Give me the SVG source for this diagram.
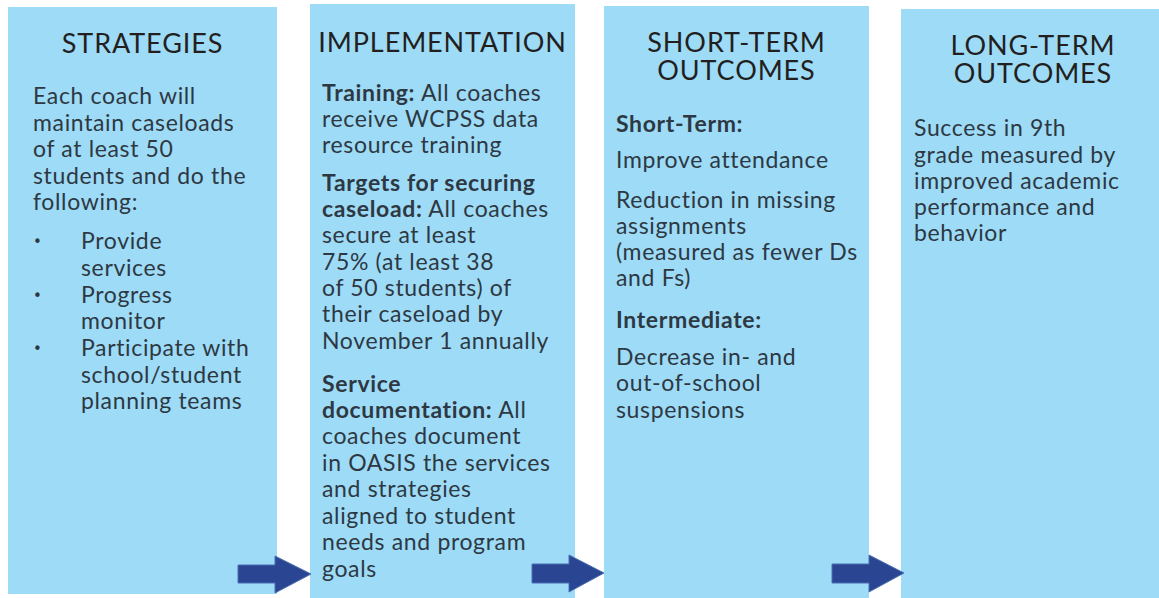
<svg xmlns="http://www.w3.org/2000/svg" width="1159" height="598" viewBox="0 0 1159 598">
  <style>
    .box { fill: #9DDBF7; }
    .head { font-family: Lato, "Noto Sans", sans-serif; font-size: 27px; letter-spacing: 0.9px; fill: #231F20; text-anchor: middle; }
    .body { font-family: Lato, "Noto Sans", sans-serif; font-size: 23px; letter-spacing: 0.65px; fill: #2E3842; }
    .b { font-weight: 700; }
    .dot { font-family: "DejaVu Sans", sans-serif; font-size: 15px; fill: #2E3842; }
    .arrow { fill: #2A4591; stroke: #4C6FB3; stroke-width: 1; }
  </style>
  <rect width="1159" height="598" fill="#FFFFFF"/>

  <g id="strategies">
    <rect class="box" x="8" y="7" width="269" height="587"/>
    <text class="head" x="142.5" y="53">STRATEGIES</text>
    <text class="body">
      <tspan x="33" y="104">Each coach will</tspan>
      <tspan x="33" y="131">maintain caseloads</tspan>
      <tspan x="33" y="157">of at least 50</tspan>
      <tspan x="33" y="184">students and do the</tspan>
      <tspan x="33" y="210">following:</tspan>
    </text>
    <!-- bullet list -->
    <text class="dot">
      <tspan x="33" y="247">•</tspan>
      <tspan x="33" y="301">•</tspan>
      <tspan x="33" y="354">•</tspan>
    </text>
    <text class="body">
      <tspan x="81" y="249">Provide</tspan>
      <tspan x="81" y="276">services</tspan>
      <tspan x="81" y="303">Progress</tspan>
      <tspan x="81" y="329">monitor</tspan>
      <tspan x="81" y="356">Participate with</tspan>
      <tspan x="81" y="383">school/student</tspan>
      <tspan x="81" y="409">planning teams</tspan>
    </text>
  </g>

  <g id="implementation">
    <rect class="box" x="310" y="4" width="265" height="594"/>
    <text class="head" x="442.5" y="52">IMPLEMENTATION</text>
    <text class="body">
      <tspan x="322" y="101" class="b">Training:</tspan><tspan> All coaches</tspan>
      <tspan x="322" y="127">receive WCPSS data</tspan>
      <tspan x="322" y="153">resource training</tspan>
      <tspan x="322" y="191" class="b">Targets for securing</tspan>
      <tspan x="322" y="217" class="b">caseload:</tspan><tspan> All coaches</tspan>
      <tspan x="322" y="243">secure at least</tspan>
      <tspan x="322" y="270">75% (at least 38</tspan>
      <tspan x="322" y="296">of 50 students) of</tspan>
      <tspan x="322" y="322">their caseload by</tspan>
      <tspan x="322" y="349">November 1 annually</tspan>
      <tspan x="322" y="392" class="b">Service</tspan>
      <tspan x="322" y="418" class="b">documentation:</tspan><tspan> All</tspan>
      <tspan x="322" y="444">coaches document</tspan>
      <tspan x="322" y="471">in OASIS the services</tspan>
      <tspan x="322" y="497">and strategies</tspan>
      <tspan x="322" y="524">aligned to student</tspan>
      <tspan x="322" y="550">needs and program</tspan>
      <tspan x="322" y="577">goals</tspan>
    </text>
  </g>

  <g id="short-term-outcomes">
    <rect class="box" x="604" y="6" width="265" height="592"/>
    <text class="head" x="736.5" y="52">SHORT-TERM</text>
    <text class="head" x="736.5" y="80">OUTCOMES</text>
    <text class="body">
      <tspan x="616" y="132" class="b">Short-Term:</tspan>
      <tspan x="616" y="168">Improve attendance</tspan>
      <tspan x="616" y="208">Reduction in missing</tspan>
      <tspan x="616" y="234">assignments</tspan>
      <tspan x="616" y="260">(measured as fewer Ds</tspan>
      <tspan x="616" y="286">and Fs)</tspan>
      <tspan x="616" y="328" class="b">Intermediate:</tspan>
      <tspan x="616" y="365">Decrease in- and</tspan>
      <tspan x="616" y="391">out-of-school</tspan>
      <tspan x="616" y="418">suspensions</tspan>
    </text>
  </g>

  <g id="long-term-outcomes">
    <rect class="box" x="901" y="9" width="258" height="589"/>
    <text class="head" x="1033" y="55">LONG-TERM</text>
    <text class="head" x="1033" y="83">OUTCOMES</text>
    <text class="body">
      <tspan x="914" y="136">Success in 9th</tspan>
      <tspan x="914" y="163">grade measured by</tspan>
      <tspan x="914" y="189">improved academic</tspan>
      <tspan x="914" y="215">performance and</tspan>
      <tspan x="914" y="241">behavior</tspan>
    </text>
  </g>

  <g id="connectors">
    <polygon class="arrow" points="238,565 275,565 275,556 311,574 275,593 275,583 238,583"/>
    <polygon class="arrow" points="532,564 569,564 569,555 604,573 569,592 569,583 532,583"/>
    <polygon class="arrow" points="832,564 869,564 869,555 904,573 869,592 869,583 832,583"/>
  </g>
</svg>
